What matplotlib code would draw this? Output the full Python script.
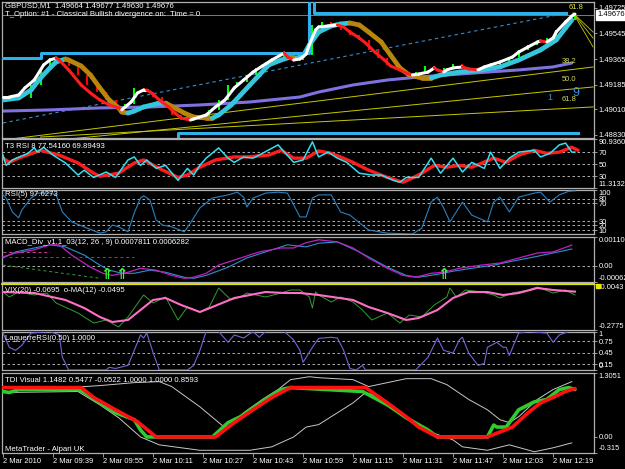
"""
GBPUSD M1 MetaTrader screen rebuilt with matplotlib.
Seven stacked windows: price + six indicator windows.
"""

import numpy as np
import matplotlib.pyplot as plt
from matplotlib.collections import LineCollection
from matplotlib.transforms import blended_transform_factory

plt.rcParams['font.family'] = ['Liberation Sans', 'DejaVu Sans']
plt.rcParams['font.size'] = 5.4

W, H = 625, 469

# ---------------- data (bar index = minutes after 09:23) ----------------
time_labels = ['2 Mar 2010', '2 Mar 09:39', '2 Mar 09:55', '2 Mar 10:11',
               '2 Mar 10:27', '2 Mar 10:43', '2 Mar 10:59', '2 Mar 11:15',
               '2 Mar 11:31', '2 Mar 11:47', '2 Mar 12:03', '2 Mar 12:19']
label_step = 16

# price window
price_title = 'GBPUSD,M1  1.49664 1.49677 1.49630 1.49676'
signal_title = 'T_Option: #1 - Classical Bullish divergence on:  Time = 0'
last_price = 1.49676
price_ticks = [1.49725, 1.49545, 1.49365, 1.49185, 1.49010, 1.48830]
price_lim = (1.48808, 1.49767)

candle_bars = list(range(0, 184, 3))
candle_close = [1.49076, 1.49111, 1.49090, 1.49182, 1.49288, 1.49372, 1.49358, 1.49316,
                1.49252, 1.49182, 1.49132, 1.49076, 1.49020, 1.49048, 1.49161, 1.49132,
                1.49097, 1.49034, 1.48970, 1.48935, 1.48935, 1.48949, 1.49006, 1.49076,
                1.49182, 1.49203, 1.49252, 1.49302, 1.49344, 1.49379, 1.49414, 1.49358,
                1.49393, 1.49605, 1.49626, 1.49605, 1.49570, 1.49534, 1.49499, 1.49429,
                1.49372, 1.49323, 1.49288, 1.49266, 1.49273, 1.49316, 1.49288, 1.49302,
                1.49330, 1.49302, 1.49288, 1.49309, 1.49323, 1.49344, 1.49379, 1.49429,
                1.49464, 1.49485, 1.49513, 1.49570, 1.49640, 1.49676]

fast_bar = [0, 2, 5, 7, 10, 13, 15, 17, 18, 21, 25, 28, 31, 34, 37, 38, 41, 43, 45, 46,
            48, 50, 53, 55, 57, 60, 61, 65, 68, 71, 74, 77, 80, 83, 86, 90, 91, 93, 95, 97,
            98, 100, 101, 104, 107, 109, 111, 114, 116, 119, 122, 124, 127, 129, 131, 133,
            136, 138, 139, 141, 142, 144, 147, 149, 152, 154, 156, 159, 163, 165, 168, 171,
            172, 174, 176, 177, 180, 182, 183]
fast_val = [1.49097, 1.49097, 1.49111, 1.49161, 1.49217, 1.49323, 1.49358, 1.49372, 1.49358,
            1.49288, 1.49182, 1.49125, 1.49076, 1.49041, 1.49020, 1.49006, 1.49062, 1.49125,
            1.49147, 1.49147, 1.49118, 1.49076, 1.49027, 1.48984, 1.48949, 1.48935, 1.48942,
            1.48970, 1.49027, 1.49076, 1.49161, 1.49217, 1.49273, 1.49316, 1.49358, 1.49407,
            1.49379, 1.49358, 1.49365, 1.49400, 1.49464, 1.49570, 1.49591, 1.49598, 1.49605,
            1.49591, 1.49555, 1.49513, 1.49478, 1.49414, 1.49358, 1.49316, 1.49288, 1.49266,
            1.49252, 1.49259, 1.49273, 1.49302, 1.49288, 1.49273, 1.49288, 1.49302, 1.49309,
            1.49295, 1.49288, 1.49309, 1.49323, 1.49344, 1.49379, 1.49414, 1.49450, 1.49485,
            1.49492, 1.49485, 1.49513, 1.49555, 1.49626, 1.49668, 1.49682]

slow_bar = [0, 5, 9, 12, 15, 17, 20, 21, 25, 28, 31, 34, 37, 38, 40, 42, 45, 49, 50, 52,
            55, 58, 61, 65, 67, 69, 73, 76, 79, 82, 85, 89, 92, 94, 96, 98, 101, 105, 108,
            111, 114, 117, 121, 124, 127, 130, 134, 137, 140, 146, 153, 159, 165, 172, 177,
            180, 182]
slow_val = [1.49076, 1.49090, 1.49147, 1.49231, 1.49302, 1.49344, 1.49365, 1.49358, 1.49316,
            1.49252, 1.49161, 1.49076, 1.49020, 1.48991, 1.48984, 1.48998, 1.49027, 1.49048,
            1.49055, 1.49055, 1.49020, 1.48984, 1.48956, 1.48949, 1.48949, 1.48970, 1.49041,
            1.49111, 1.49182, 1.49252, 1.49323, 1.49358, 1.49379, 1.49372, 1.49386, 1.49464,
            1.49555, 1.49598, 1.49612, 1.49619, 1.49605, 1.49555, 1.49485, 1.49393, 1.49302,
            1.49252, 1.49231, 1.49231, 1.49252, 1.49273, 1.49288, 1.49309, 1.49358, 1.49429,
            1.49499, 1.49584, 1.49640]

long_bar = [0, 15, 31, 47, 63, 79, 95, 101, 112, 123, 133, 155, 165, 176, 182]
long_val = [1.48998, 1.49006, 1.49020, 1.49027, 1.49041, 1.49062, 1.49097, 1.49132, 1.49182,
            1.49217, 1.49238, 1.49273, 1.49288, 1.49309, 1.49337]

# drawn objects on the price window
resist_bar = [0, 12, 12, 98, 98]
resist_val = [1.49372, 1.49372, 1.49407, 1.49407, 1.49767]
box_bar = [99.5, 99.5, 180]
box_val = [1.49767, 1.49689, 1.49689]
support_bar = [56, 56, 184]
support_val = [1.48808, 1.48843, 1.48843]
trend_bar = [0, 180.5]
trend_val = [1.48914, 1.49689]
fan_names = ['38.2', '50.0', '61.8']
fan_start_bar = [0, 18, 12]
fan_start_val = [1.48794, 1.48794, 1.48815]
fan_end_bar = 188.8
fan_end_val = [1.49309, 1.49168, 1.49027]
fan_label_val = [1.49344, 1.49217, 1.49076]
peak_bar = 182.4
peak_val = 1.49689
peak_fan_val = [1.49555, 1.49513, 1.49450]

# T3 RSI window
t3_title = 'T3 RSI 8 77.54160 69.89493'
t3_lim = (11.31329, 90.93607)
t3_ticks = [90.93607, 70, 50, 30, 11.31329]
t3_levels = [70, 50, 30]
t3_bar = [0, 2, 5, 12, 18, 24, 29, 31, 37, 42, 45, 50, 56, 59, 63, 68, 74, 78, 85, 89,
          93, 97, 101, 105, 108, 112, 117, 123, 128, 131, 134, 138, 142, 146, 150, 157, 161,
          165, 170, 174, 178, 182, 184]
t3_val = [60, 53, 60, 73, 65, 52, 35, 30, 35, 52, 57, 43, 28, 32, 45, 57, 62, 62, 65, 73,
          60, 60, 72, 68, 62, 53, 40, 28, 20, 27, 35, 48, 45, 48, 45, 60, 53, 65, 73, 68,
          70, 78, 73]
rsi8_bar = [0, 1, 3, 8, 10, 11, 13, 16, 20, 24, 26, 29, 33, 36, 40, 42, 44, 46, 49, 52,
            56, 59, 61, 63, 65, 69, 72, 74, 77, 80, 83, 88, 93, 96, 99, 101, 104, 107, 110,
            114, 118, 121, 125, 127, 129, 133, 137, 140, 144, 147, 150, 154, 156, 159, 162,
            165, 170, 172, 175, 178, 180, 182, 183]
rsi8_val = [65, 48, 57, 68, 77, 70, 78, 65, 52, 32, 40, 28, 37, 28, 57, 62, 48, 57, 43, 48,
            23, 43, 32, 48, 60, 77, 60, 53, 62, 60, 68, 82, 53, 57, 87, 62, 70, 60, 53, 35,
            32, 32, 23, 20, 28, 28, 60, 35, 60, 37, 53, 43, 70, 43, 60, 70, 73, 62, 68, 82,
            85, 70, 70]

# RSI(5) window
rsi5_title = 'RSI(5) 97.6273'
rsi5_ticks = [100, 80, 70, 30, 20, 10]
rsi5_levels = [80, 70, 30, 20, 10]
rsi5_bar = [0, 1, 3, 5, 6, 9, 11, 15, 17, 19, 22, 27, 31, 33, 35, 37, 40, 42, 44, 45,
            47, 49, 51, 54, 58, 60, 63, 67, 72, 75, 77, 78, 80, 84, 88, 91, 93, 95, 97, 99,
            101, 105, 108, 111, 114, 117, 123, 131, 134, 137, 139, 141, 143, 146, 147, 150,
            155, 157, 159, 162, 165, 170, 172, 175, 178, 181, 183]
rsi5_val = [88, 81, 50, 37, 54, 81, 92, 92, 88, 50, 28, 14, 3, 6, 21, 17, 6, 48, 81, 86,
            77, 32, 21, 17, 6, 26, 59, 81, 88, 94, 83, 61, 81, 92, 94, 92, 66, 39, 39, 81,
            88, 88, 50, 43, 26, 10, 3, 1, 14, 72, 83, 59, 28, 61, 72, 43, 28, 72, 83, 50,
            83, 92, 94, 72, 88, 96, 97]

# MACD window
macd_title = 'MACD_Div_v1.1_03(12, 26 , 9) 0.0007811 0.0006282'
macd_lim = (-0.00062, 0.001105)
macd_ticks = [0.001105, 0.0, -0.00062]
macd_tick_labels = ['0.001105', '0.00', '-0.00062']
macd_main_bar = [0, 4, 10, 15, 20, 26, 31, 34, 38, 42, 47, 52, 58, 61, 65, 72, 78, 84, 91,
                 97, 101, 107, 114, 123, 129, 133, 139, 144, 150, 157, 163, 170, 176, 182]
macd_main_val = [0.00029, 0.00052, 0.00067, 0.00079, 0.00071, 0.00040, 0.00002, -0.00017,
                 -0.00029, -0.00029, -0.00017, -0.00025, -0.00044, -0.00048, -0.00037,
                 -0.00006, 0.00029, 0.00052, 0.00079, 0.00071, 0.00085, 0.00090, 0.00052,
                 -0.00006, -0.00037, -0.00044, -0.00033, -0.00021, -0.00010, 0.00002,
                 0.00017, 0.00033, 0.00048, 0.00063]
macd_sig_bar = [0, 4, 10, 15, 18, 22, 28, 32, 35, 40, 44, 49, 54, 58, 61, 65, 69, 76, 82,
                89, 93, 97, 101, 107, 112, 117, 123, 128, 132, 137, 141, 146, 153, 159, 165,
                171, 176, 182]
macd_sig_val = [0.00033, 0.00048, 0.00060, 0.00079, 0.00079, 0.00040, -0.00006, -0.00029,
                -0.00037, -0.00025, -0.00010, -0.00017, -0.00037, -0.00048, -0.00044,
                -0.00029, 0.00002, 0.00029, 0.00052, 0.00067, 0.00067, 0.00087, 0.00098,
                0.00090, 0.00067, 0.00029, -0.00010, -0.00037, -0.00044, -0.00029,
                -0.00025, -0.00010, 0.00002, 0.00010, 0.00029, 0.00048, 0.00052, 0.00078]
div_pink_bar = [0, 15]
div_pink_val = [0.00053, 0.00053]
div_red_bar = [2, 42]
div_red_val = [0.00033, 0.00033]
div_green_bar = [0, 31]
div_green_val = [0.00002, -0.00048]
arrow_bars = [33, 38, 141]

# VIX window
vix_title = 'VIX(20) -0.0695  o-MA(12) -0.0495'
vix_lim = (-0.2775, -0.0043)
vix_ticks = [-0.0043, -0.2775]
vix_ma_bar = [0, 10, 20, 26, 31, 35, 40, 44, 48, 52, 57, 63, 67, 74, 79, 84, 90, 95, 101,
              112, 117, 123, 129, 133, 139, 144, 149, 155, 160, 165, 171, 176, 183]
vix_ma_val = [-0.0518, -0.0578, -0.0993, -0.1469, -0.2003, -0.2300, -0.2181, -0.1587,
              -0.0993, -0.0875, -0.1290, -0.1706, -0.1409, -0.0875, -0.0696, -0.0518,
              -0.0578, -0.0578, -0.0696, -0.0993, -0.1409, -0.1766, -0.2181, -0.2063,
              -0.1587, -0.0875, -0.0518, -0.0518, -0.0696, -0.0578, -0.0281, -0.0399,
              -0.0495]
vix_bar = [0, 2, 5, 10, 14, 17, 24, 29, 33, 37, 40, 42, 45, 48, 52, 56, 59, 63, 66, 69,
           73, 76, 78, 84, 89, 92, 95, 98, 99, 100, 101, 105, 108, 112, 115, 118, 123, 127,
           130, 134, 138, 142, 143, 145, 148, 153, 157, 159, 163, 168, 171, 176, 180, 183]
vix_val = [-0.0518, -0.0815, -0.0518, -0.0696, -0.0578, -0.1172, -0.1766, -0.2360,
           -0.2181, -0.2597, -0.2003, -0.1469, -0.0696, -0.1172, -0.0815, -0.2181,
           -0.1409, -0.1706, -0.1409, -0.0281, -0.0993, -0.0815, -0.0578, -0.0815,
           -0.0578, -0.0399, -0.0399, -0.0815, -0.1469, -0.0518, -0.0696, -0.1112,
           -0.0815, -0.1112, -0.1587, -0.2181, -0.1766, -0.2360, -0.1884, -0.2003,
           -0.1290, -0.0815, -0.0281, -0.0815, -0.0399, -0.0518, -0.0696, -0.0875,
           -0.0578, -0.0399, -0.0221, -0.0578, -0.0399, -0.0695]

# Laguerre RSI window
lag_title = 'LaguerreRSI(0.50) 1.0000'
lag_ticks = [1, 0.75, 0.45, 0.15, 0]
lag_tick_labels = ['1', '0.75', '0.45', '0.15', '0']
lag_levels = [0.75, 0.45, 0.15]
lag_bar = [0, 2, 4, 6, 9, 15, 18, 19, 21, 33, 34, 36, 40, 42, 44, 45, 46, 48, 50, 59,
           61, 63, 65, 69, 72, 74, 77, 80, 82, 84, 90, 93, 95, 96, 99, 101, 105, 107, 109,
           111, 113, 115, 116, 132, 136, 139, 141, 144, 146, 147, 149, 152, 154, 155, 158,
           160, 161, 162, 165, 168, 174, 176, 178, 181, 183]
lag_val = [0.96, 0.59, 0.51, 0.64, 0.96, 1.0, 0.91, 0.33, 0.0, 0.0, 0.07, 0.04, 0.12,
           0.51, 0.91, 0.83, 0.96, 0.46, 0.0, 0.0, 0.12, 0.51, 1.0, 1.0, 0.72, 0.91, 0.83,
           1.0, 0.85, 1.0, 1.0, 0.78, 0.51, 0.20, 0.59, 0.82, 0.85, 0.83, 0.51, 0.04, 0.0,
           0.12, 0.0, 0.0, 0.33, 0.83, 0.51, 0.44, 0.78, 0.85, 0.44, 0.12, 0.17, 0.59, 0.72,
           0.59, 0.59, 0.38, 0.96, 1.0, 0.96, 0.72, 0.91, 1.0, 1.0]

# TDI window
tdi_title = 'TDI Visual 1.1482 0.5477 -0.0522 1.0000 1.0000 0.8593'
tdi_lim = (-0.315, 1.3051)
tdi_ticks = [1.3051, 0.0, -0.315]
tdi_tick_labels = ['1.3051', '0.00', '-0.315']
tdi_red_bar = [0, 25, 29, 36, 43, 49, 68, 74, 80, 86, 92, 116, 123, 129, 133, 139, 155,
               159, 163, 168, 172, 176, 180, 183]
tdi_red_val = [1.0, 1.0, 0.80, 0.55, 0.31, 0.0, 0.0, 0.29, 0.55, 0.80, 1.0, 1.0, 0.69,
               0.41, 0.20, 0.0, 0.0, 0.10, 0.20, 0.49, 0.69, 0.80, 0.92, 0.98]
tdi_green_bar = [0, 2, 5, 24, 26, 31, 36, 42, 44, 46, 50, 67, 72, 76, 80, 84, 89, 92,
                 115, 118, 123, 129, 136, 139, 155, 157, 158, 161, 165, 170, 174, 178,
                 181, 183]
tdi_green_val = [0.92, 0.90, 0.96, 0.96, 0.90, 0.69, 0.49, 0.35, 0.14, 0.0, 0.0, 0.0, 0.29,
                 0.41, 0.59, 0.76, 0.96, 1.0, 0.92, 0.82, 0.65, 0.39, 0.14, 0.0, 0.0, 0.24,
                 0.20, 0.20, 0.55, 0.71, 0.76, 0.96, 1.0, 0.96]
tdi_up_bar = [0, 26, 31, 42, 50, 54, 63, 70, 72, 77, 83, 88, 92, 98, 101, 112, 117, 123,
              129, 137, 142, 149, 155, 159, 162, 165, 171, 176, 182]
tdi_up_val = [1.0, 1.02, 1.04, 1.10, 1.12, 1.02, 0.61, 0.24, 0.20, 0.49, 0.76, 0.96, 1.16,
              1.22, 1.20, 1.16, 1.02, 1.10, 1.18, 1.18, 1.06, 0.76, 0.55, 0.35, 0.29, 0.41,
              0.76, 0.96, 1.12]
tdi_dn_bar = [0, 24, 31, 37, 44, 50, 63, 79, 86, 93, 97, 101, 107, 112, 116, 121, 127,
              133, 144, 147, 155, 162, 170, 176, 182]
tdi_dn_val = [0.90, 0.92, 0.65, 0.39, 0.0, -0.16, -0.27, -0.27, -0.20, 0.0, 0.20, 0.25,
              0.49, 0.69, 0.90, 0.80, 0.49, 0.18, -0.06, -0.20, -0.27, -0.16, -0.30, -0.22,
              -0.12]
footer = 'MetaTrader - Alpari UK'

# ---------------- layout / style ----------------
BG = '#000000'
FRAME = '#b0b0b0'
LEVEL = '#c8c8c8'
XLIM = (-0.32, 189.1)
LEFT_PX, RIGHT_PX = 2, 594


def panel(fig, top, bottom):
    ax = fig.add_axes([LEFT_PX / W, 1 - bottom / H,
                       (RIGHT_PX - LEFT_PX) / W, (bottom - top) / H])
    ax.set_facecolor(BG)
    ax.set_xlim(*XLIM)
    for sp in ax.spines.values():
        sp.set_color(FRAME)
        sp.set_linewidth(0.9)
    ax.yaxis.tick_right()
    ax.tick_params(axis='y', colors=FRAME, labelcolor='white', length=2.5,
                   width=0.6, pad=1, labelsize=5.4)
    ax.tick_params(axis='x', bottom=False, labelbottom=False)
    return ax


def right_labels(ax, ticks, labels=None):
    labels = labels or [f'{t:g}' for t in ticks]
    ax.set_yticks(ticks, labels)
    lo, hi = ax.get_ylim()
    for t, lab in zip(ticks, ax.get_yticklabels()):
        if np.isclose(t, hi):
            lab.set_va('top')
        elif np.isclose(t, lo):
            lab.set_va('bottom')


def levels(ax, vals):
    for v in vals:
        ax.axhline(v, color=LEVEL, lw=0.6, ls=(0, (3, 3)), zorder=1)


def two_tone(ax, x, y, up, down, lw, z):
    # colour each step of a moving average by its direction, like the MT4 indicator
    x = np.asarray(x, float)
    y = np.asarray(y, float)
    pts = np.column_stack([x, y])
    segs = np.stack([pts[:-1], pts[1:]], axis=1)
    colors, cur = [], up
    for d in np.diff(y):
        if d > 0:
            cur = up
        elif d < 0:
            cur = down
        colors.append(cur)
    ax.add_collection(LineCollection(segs, colors=colors, linewidths=lw,
                                     capstyle='round', joinstyle='round', zorder=z))


def title(y_px, text, color='white'):
    fig.text(5 / W, 1 - y_px / H, text, color=color, va='center', ha='left', fontsize=5.6)


fig = plt.figure(figsize=(W / 100, H / 100), dpi=100, facecolor=BG)

# ---- price window ----
ax = panel(fig, 2, 138)
ax.set_ylim(*price_lim)
right_labels(ax, price_ticks, [f'{t:.5f}' for t in price_ticks])

for i, name in enumerate(fan_names):
    ax.plot([fan_start_bar[i], fan_end_bar], [fan_start_val[i], fan_end_val[i]],
            color='#c8c800', lw=0.7, zorder=1.5)
    ax.text(178.9, fan_label_val[i], name, color='#d8d860', fontsize=5.4,
            va='center', ha='left', zorder=6)
for v in peak_fan_val:
    ax.plot([peak_bar, fan_end_bar], [peak_val, v], color='#c8c800', lw=0.6, zorder=1.5)
ax.text(181, 1.49728, '61.8', color='#e8e840', fontsize=5.4, va='center', ha='left', zorder=6)

ax.axhline(last_price, color='#909090', lw=0.6, zorder=1.2)
ax.plot(trend_bar, trend_val, color='#3a8ccf', lw=0.8, ls=(0, (3, 3)), zorder=1.6)
ax.plot(long_bar, long_val, color='#7f72e0', lw=2.2, zorder=2,
        solid_capstyle='round')

opens = [candle_close[0]] + candle_close[:-1]
lo = [min(o, c) for o, c in zip(opens, candle_close)]
hi = [max(o, c) for o, c in zip(opens, candle_close)]
cols = ['#00ff00' if c >= o else '#ff0000' for o, c in zip(opens, candle_close)]
ax.vlines(candle_bars, lo, hi, colors=cols, lw=1.5, zorder=2.5)

two_tone(ax, slow_bar, slow_val, '#36c6dc', '#b8860b', 3.4, 3)
two_tone(ax, fast_bar, fast_val, '#ffffff', '#ff1c1c', 2.2, 4)

ax.plot(resist_bar, resist_val, color='#2fb0e8', lw=2.2, zorder=3.5)
ax.plot(box_bar, box_val, color='#2fb0e8', lw=2.2, zorder=3.5)
ax.plot(support_bar, support_val, color='#2fb0e8', lw=2.2, zorder=3.5)

ax.text(175, 1.49097, '1', color='#3a8fd8', fontsize=6.5, va='center', ha='center', zorder=6)
ax.text(183.4, 1.49125, '9', color='#3a8fd8', fontsize=9, va='center', ha='center', zorder=6)

tr = blended_transform_factory(ax.transAxes, ax.transData)
ax.text(1.006, last_price, f'{last_price:.5f}', transform=tr, color='black', fontsize=5.4,
        va='center', ha='left', clip_on=False, zorder=7,
        bbox=dict(boxstyle='square,pad=0.15', fc='white', ec='white'))

title(6, price_title)
title(15, signal_title)

# ---- T3 RSI ----
ax = panel(fig, 139.5, 187.5)
ax.set_ylim(*t3_lim)
right_labels(ax, t3_ticks, ['90.93607', '70', '50', '30', '11.31329'])
levels(ax, t3_levels)
ax.plot(t3_bar, t3_val, color='#ff1c1c', lw=2.4, zorder=2, solid_capstyle='round')
ax.plot(rsi8_bar, rsi8_val, color='#30e0f0', lw=1.1, zorder=3)
title(146, t3_title)

# ---- RSI(5) ----
ax = panel(fig, 189.5, 234.5)
ax.set_ylim(0, 100)
right_labels(ax, rsi5_ticks)
levels(ax, rsi5_levels)
ax.plot(rsi5_bar, rsi5_val, color='#2a80c0', lw=0.8, zorder=3)
title(195, rsi5_title)

# ---- MACD ----
ax = panel(fig, 236.5, 282)
ax.set_ylim(*macd_lim)
right_labels(ax, macd_ticks, macd_tick_labels)
levels(ax, [0.0])
ax.plot(div_pink_bar, div_pink_val, color='#d040a0', lw=0.7, ls=(0, (3, 3)), zorder=2)
ax.plot(div_red_bar, div_red_val, color='#e02020', lw=0.7, ls=(0, (3, 3)), zorder=2)
ax.plot(div_green_bar, div_green_val, color='#30a030', lw=0.7, ls=(0, (3, 3)), zorder=2)
ax.plot(macd_main_bar, macd_main_val, color='#2a90d0', lw=0.8, zorder=3)
ax.plot(macd_sig_bar, macd_sig_val, color='#c020c0', lw=0.9, zorder=3)
for b in arrow_bars:
    ax.text(b, macd_lim[0], '\u21d1', color='#33ff33', fontsize=11, fontweight='bold',
            family='DejaVu Sans', ha='center', va='bottom', zorder=5)
title(243, macd_title)

# ---- VIX ----
ax = panel(fig, 284, 330)
ax.set_ylim(*vix_lim)
right_labels(ax, vix_ticks, ['-0.0043', '-0.2775'])
ax.axhline(vix_lim[1], color='#e8e800', lw=1.3, clip_on=False, zorder=5)
tr = blended_transform_factory(ax.transAxes, ax.transData)
ax.plot([1.006], [vix_lim[1] - 0.012], marker='s', ms=2.6, color='#e8e800',
        transform=tr, clip_on=False, zorder=6)
ax.plot(vix_bar, vix_val, color='#2f9f2f', lw=0.7, zorder=2)
ax.plot(vix_ma_bar, vix_ma_val, color='#ff6ec7', lw=1.5, zorder=3)
title(290, vix_title)

# ---- Laguerre RSI ----
ax = panel(fig, 331.5, 370)
ax.set_ylim(0, 1)
right_labels(ax, lag_ticks, lag_tick_labels)
levels(ax, lag_levels)
ax.plot(lag_bar, lag_val, color='#7464d4', lw=0.8, zorder=3)
title(338, lag_title)

# ---- TDI ----
ax = panel(fig, 372.5, 452.5)
ax.set_ylim(*tdi_lim)
right_labels(ax, tdi_ticks, tdi_tick_labels)
ax.plot(tdi_up_bar, tdi_up_val, color='#c8c8c8', lw=0.7, zorder=2)
ax.plot(tdi_dn_bar, tdi_dn_val, color='#c8c8c8', lw=0.7, zorder=2)
ax.plot(tdi_green_bar, tdi_green_val, color='#2ecc2e', lw=2.6, zorder=3,
        solid_capstyle='round')
ax.plot(tdi_red_bar, tdi_red_val, color='#ff1010', lw=2.6, zorder=4,
        solid_capstyle='round')
title(380, tdi_title)
title(449, footer)

ticks = [label_step * i for i in range(len(time_labels))]
ax.set_xticks(ticks, time_labels)
ax.tick_params(axis='x', bottom=True, labelbottom=True, colors=FRAME, labelcolor='white',
               length=3, width=0.6, pad=1, labelsize=5.4)
for lab in ax.get_xticklabels():
    lab.set_ha('left')

fig.savefig('out.png', dpi=100, facecolor=BG)
